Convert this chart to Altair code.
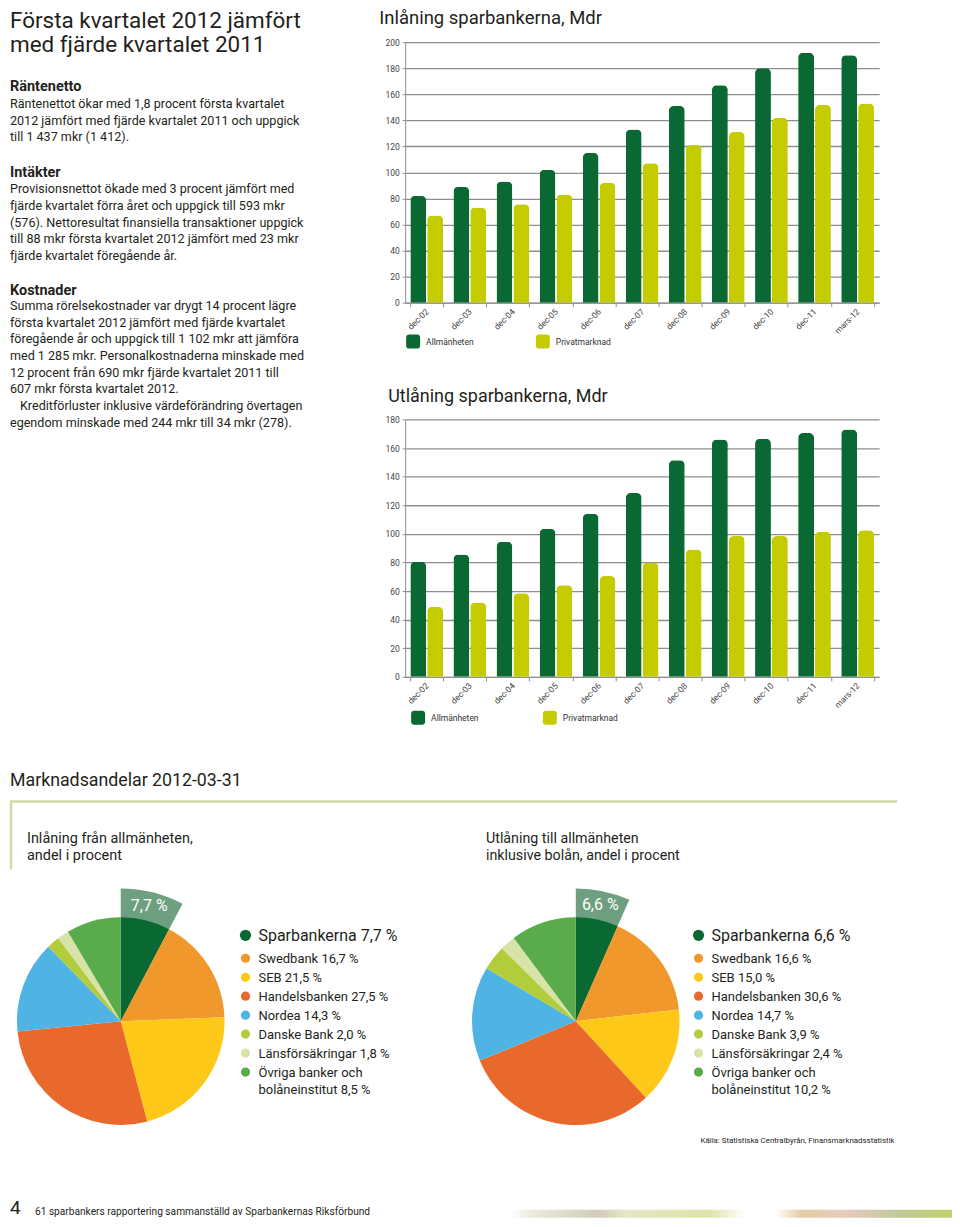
import altair as alt
import pandas as pd

FONT = "Roboto"
INK = "#231f20"
DG = "#0a6833"
LIME = "#c4cc00"
GRID = "#8e8e8e"
EXPL = "#6e9f80"

# ---------------- data ----------------
periods = ["dec-02", "dec-03", "dec-04", "dec-05", "dec-06", "dec-07",
           "dec-08", "dec-09", "dec-10", "dec-11", "mars-12"]
series = ["Allmänheten", "Privatmarknad"]

inl_allm = [82, 89, 93, 102, 115, 133, 151, 167, 180, 192, 190]
inl_priv = [67, 73, 75.5, 83, 92, 107, 121, 131, 142, 152, 153]
utl_allm = [80.5, 85.5, 94.5, 103.5, 114, 128.5, 151.5, 166, 166.5, 170.5, 173]
utl_priv = [49, 52, 58.5, 64, 70.5, 80, 89, 98.5, 98.5, 101.5, 102.5]

banks = ["Sparbankerna", "Swedbank", "SEB", "Handelsbanken", "Nordea",
         "Danske Bank", "Länsförsäkringar", "Övriga banker och bolåneinstitut"]
bank_colors = ["#0a6833", "#f0982c", "#fdc818", "#e9682b", "#4fb4e4",
               "#b3cc3c", "#d7e3a7", "#5aab4c"]
inl_share = [7.7, 16.7, 21.5, 27.5, 14.3, 2.0, 1.8, 8.5]
utl_share = [6.6, 16.6, 15.0, 30.6, 14.7, 3.9, 2.4, 10.2]

title_lines = ["Första kvartalet 2012 jämfört", "med fjärde kvartalet 2011"]
rn_lines = ["Räntenettot ökar med 1,8 procent första kvartalet",
            "2012 jämfört med fjärde kvartalet 2011 och uppgick",
            "till 1 437 mkr (1 412)."]
in_lines = ["Provisionsnettot ökade med 3 procent jämfört med",
            "fjärde kvartalet förra året och uppgick till 593 mkr",
            "(576). Nettoresultat finansiella transaktioner uppgick",
            "till 88 mkr första kvartalet 2012 jämfört med 23 mkr",
            "fjärde kvartalet föregående år."]
ko_lines = ["Summa rörelsekostnader var drygt 14 procent lägre",
            "första kvartalet 2012 jämfört med fjärde kvartalet",
            "föregående år och uppgick till 1 102 mkr att jämföra",
            "med 1 285 mkr. Personalkostnaderna minskade med",
            "12 procent från 690 mkr fjärde kvartalet 2011 till",
            "607 mkr första kvartalet 2012."]
kr_line1 = "Kreditförluster inklusive värdeförändring övertagen"
kr_line2 = "egendom minskade med 244 mkr till 34 mkr (278)."

ONE = pd.DataFrame({"k": [0]})
ROUNDED = "M-0.55,-1L0.55,-1Q1,-1,1,-0.55L1,0.55Q1,1,0.55,1L-0.55,1Q-1,1,-1,0.55L-1,-0.55Q-1,-1,-0.55,-1Z"


def bars(allm, priv, ymax, height, lx, ly, colpad):
    df = pd.DataFrame({
        "period": periods + periods,
        "serie": [series[0]] * len(periods) + [series[1]] * len(periods),
        "value": allm + priv,
    })
    return alt.Chart(df).mark_bar(cornerRadiusTopLeft=5, cornerRadiusTopRight=5).encode(
        x=alt.X("period:N", sort=periods, title=None,
                scale=alt.Scale(paddingInner=0.24, paddingOuter=0.12),
                axis=alt.Axis(labelAngle=-45, labelAlign="right", labelBaseline="middle",
                              tickBand="extent", tickSize=4, labelPadding=3,
                              labelFontSize=8.5, labelColor="#444", labelFont=FONT,
                              domainColor=GRID, tickColor=GRID, grid=False)),
        xOffset=alt.XOffset("serie:N", sort=series, scale=alt.Scale(paddingInner=0.06)),
        y=alt.Y("value:Q", title=None, scale=alt.Scale(domain=[0, ymax], nice=False),
                axis=alt.Axis(values=list(range(0, ymax + 1, 20)), grid=True,
                              gridColor=GRID, gridWidth=1.3, tickSize=3, tickColor=GRID,
                              domainColor=GRID, labelFontSize=8.5, labelColor="#444",
                              labelFont=FONT, labelPadding=3)),
        color=alt.Color("serie:N", sort=series,
                        scale=alt.Scale(domain=series, range=[DG, LIME]),
                        legend=alt.Legend(title=None, orient="none", legendX=lx, legendY=ly,
                                          direction="horizontal", columns=2,
                                          symbolType=ROUNDED, symbolSize=196,
                                          symbolStrokeWidth=0, symbolOpacity=1,
                                          labelFont=FONT, labelFontSize=8.5,
                                          labelColor="#333", labelOffset=6,
                                          columnPadding=colpad, padding=0, symbolOffset=0)),
    ).properties(width=475, height=height)


def T(lines, x, y, size, weight="normal", color=INK, lh=None):
    # x, y are page coordinates; the chart origin sits at (8, 8)
    return alt.Chart(ONE).mark_text(
        text=lines, align="left", baseline="alphabetic", font=FONT, fontSize=size,
        fontWeight=weight, color=color, lineHeight=lh if lh else round(size * 1.25, 1)
    ).encode(x=alt.value(max(x - 8, 0)), y=alt.value(y - 8))


def pie(shares, cx, cy, lx):
    df = pd.DataFrame({"bank": banks, "share": shares, "idx": list(range(len(banks)))})
    theta = alt.Theta("share:Q", stack=True)
    order = alt.Order("idx:Q")
    color = alt.Color("bank:N", scale=alt.Scale(domain=banks, range=bank_colors), legend=None)
    X = alt.value(cx - 8)
    Y = alt.value(cy - 8)
    pct = "replace(format(datum.share, '.1f'), '.', ',') + ' %'"
    outer = alt.Chart(df).transform_filter("datum.idx == 0").mark_arc(
        outerRadius=133, color=EXPL).encode(theta=theta, order=order, x=X, y=Y)
    main = alt.Chart(df).mark_arc(outerRadius=104).encode(
        theta=theta, order=order, color=color, x=X, y=Y)
    lab = alt.Chart(df).transform_filter("datum.idx == 0").transform_calculate(
        lab=pct).mark_text(radius=119, font=FONT, fontSize=16, color="white",
                           baseline="middle").encode(
        theta=theta, order=order, text="lab:N", x=X, y=Y)
    base = alt.Chart(df).transform_calculate(
        lab="replace(datum.bank, 'och ', 'och\\n') + ' ' + " + pct)
    big_dot = base.transform_filter("datum.idx == 0").mark_circle(size=125, opacity=1).encode(
        color=color, x=alt.value(lx - 8), y=alt.value(936 - 8))
    big_txt = base.transform_filter("datum.idx == 0").mark_text(
        align="left", baseline="alphabetic", font=FONT, fontSize=16, color=INK).encode(
        text="lab:N", x=alt.value(lx + 13 - 8), y=alt.value(936 - 8 + 6))
    ys = alt.Y("idx:Q", scale=alt.Scale(domain=[1, 7], range=[959 - 8, 1073 - 8], zero=False),
               axis=None)
    dots = base.transform_filter("datum.idx > 0").mark_circle(size=85, opacity=1).encode(
        color=color, x=alt.value(lx - 8), y=ys)
    txts = base.transform_filter("datum.idx > 0").mark_text(
        align="left", baseline="alphabetic", dy=4.5, font=FONT, fontSize=13,
        lineBreak="\n", lineHeight=17.5, color=INK).encode(
        text="lab:N", x=alt.value(lx + 13 - 8), y=ys)
    return [outer, main, lab, big_dot, big_txt, dots, txts]


border = "#d4d9a6"
layers = [
    T(title_lines, 8, 27, 22.5, lh=24),
    T("Räntenetto", 8, 90, 14.5, weight="bold"),
    T(rn_lines, 8, 107, 12.6, lh=16.7),
    T("Intäkter", 8, 176, 14.5, weight="bold"),
    T(in_lines, 8, 192.5, 12.6, lh=16.7),
    T("Kostnader", 8, 294, 14.5, weight="bold"),
    T(ko_lines, 8, 309.5, 12.6, lh=16.7),
    T(kr_line1, 18, 409.7, 12.6),
    T(kr_line2, 8, 426.4, 12.6),
    T("Inlåning sparbankerna, Mdr", 378, 23, 18.5),
    T("Utlåning sparbankerna, Mdr", 387, 402, 18),
    T("Marknadsandelar 2012-03-31", 8, 786, 17.8),
    alt.Chart(ONE).mark_rule(color=border, strokeWidth=2.5).encode(
        x=alt.value(0), x2=alt.value(889), y=alt.value(794)),
    alt.Chart(ONE).mark_rule(color=border, strokeWidth=2.5).encode(
        x=alt.value(1), y=alt.value(794), y2=alt.value(862)),
    T(["Inlåning från allmänheten,", "andel i procent"], 25, 843, 14.5, lh=17.5),
    T(["Utlåning till allmänheten", "inklusive bolån, andel i procent"], 485, 843, 14.3, lh=17.5),
    T("Källa: Statistiska Centralbyrån, Finansmarknadsstatistik", 700, 1144, 7.9),
    T("4", 8, 1215, 19),
    T("61 sparbankers rapportering sammanställd av Sparbankernas Riksförbund", 33, 1216, 10.2),
    alt.Chart(ONE).mark_rect(
        opacity=0.9,
        color=alt.LinearGradient(
            gradient="linear", x1=0, x2=1, y1=0, y2=0,
            stops=[alt.GradientStop(offset=0, color="#ffffff"),
                   alt.GradientStop(offset=0.05, color="#e9e7d8"),
                   alt.GradientStop(offset=0.2, color="#cdc7b2"),
                   alt.GradientStop(offset=0.26, color="#e3e4bd"),
                   alt.GradientStop(offset=0.45, color="#dcdf9f"),
                   alt.GradientStop(offset=0.53, color="#ffffff"),
                   alt.GradientStop(offset=0.6, color="#ffffff"),
                   alt.GradientStop(offset=0.66, color="#e2c79b"),
                   alt.GradientStop(offset=0.76, color="#e6c4b8"),
                   alt.GradientStop(offset=0.88, color="#b8c38b"),
                   alt.GradientStop(offset=1, color="#bccd5e")])
    ).encode(x=alt.value(502), x2=alt.value(944), y=alt.value(1203), y2=alt.value(1211)),
]
layers += pie(inl_share, 119, 1022, 244)
layers += pie(utl_share, 575, 1022, 698)

page = alt.layer(*layers).properties(width=396, height=33)


def spacer(w, h):
    return alt.Chart(ONE).mark_rect(opacity=0).encode(
        x=alt.value(1), x2=alt.value(2), y=alt.value(1), y2=alt.value(2)
    ).properties(width=w, height=h)


chart1 = bars(inl_allm, inl_priv, 200, 261, 1, 293, 62)
chart2 = bars(utl_allm, utl_priv, 180, 258, 6, 292, 64)

chart = alt.concat(
    page, spacer(475, 33),
    spacer(396, 261), chart1,
    spacer(396, 117), spacer(475, 117),
    spacer(396, 258), chart2,
    columns=2, spacing=0, bounds="flush",
).resolve_scale(
    color="independent"
).properties(
    padding=0, background="white"
).configure_view(strokeWidth=0)

chart.save("out.html", embed_options={"renderer": "svg", "actions": False})
